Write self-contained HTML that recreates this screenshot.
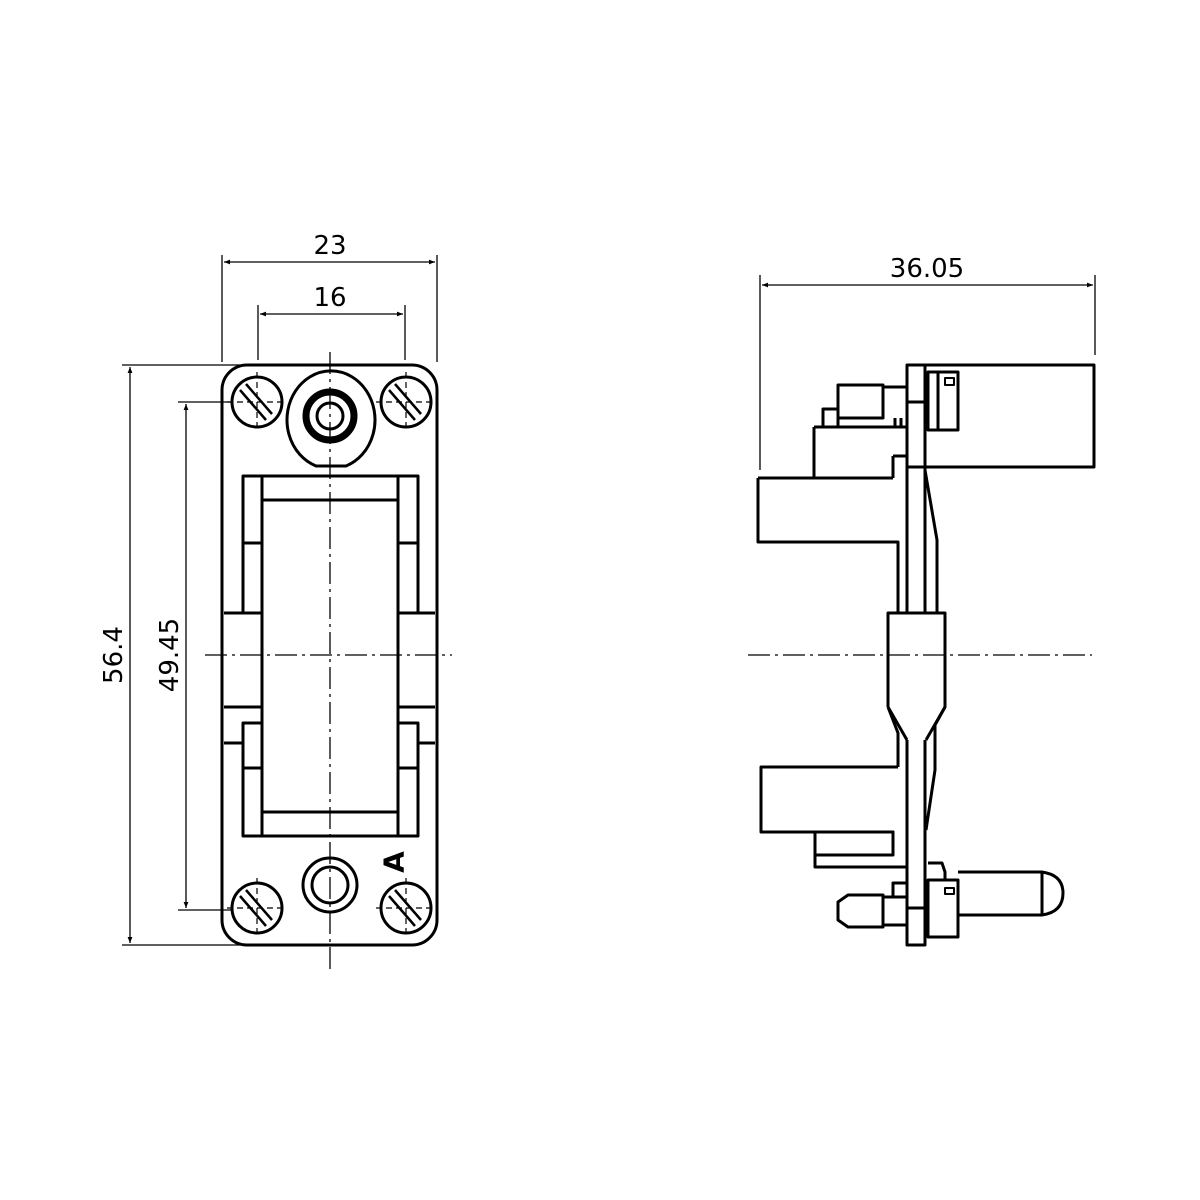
<!DOCTYPE html>
<html><head><meta charset="utf-8"><style>html,body{margin:0;padding:0;background:#fff}svg{display:block}</style></head>
<body>
<svg width="1200" height="1200" viewBox="0 0 1200 1200" xmlns="http://www.w3.org/2000/svg">
<defs>
<marker id="ar" viewBox="0 0 10 10" refX="10" refY="5" markerWidth="10" markerHeight="6" orient="auto-start-reverse" markerUnits="userSpaceOnUse"><path d="M0,1 L10,5 L0,9 z" fill="#000"/></marker>
</defs>
<g font-family="'DejaVu Sans','Liberation Sans',sans-serif" font-size="26" fill="#000">
<text x="330" y="254" text-anchor="middle">23</text>
<text x="330" y="306" text-anchor="middle">16</text>
<text x="927" y="277" text-anchor="middle">36.05</text>
<text transform="translate(122,655) rotate(-90)" text-anchor="middle">56.4</text>
<text transform="translate(178,655) rotate(-90)" text-anchor="middle">49.45</text>
</g>
<g stroke="#000" stroke-width="1.3" fill="none">
<line x1="222" y1="255" x2="222" y2="362"/><line x1="437" y1="255" x2="437" y2="362"/>
<line x1="224" y1="262" x2="435" y2="262" marker-start="url(#ar)" marker-end="url(#ar)"/>
<line x1="258" y1="305" x2="258" y2="360"/><line x1="405" y1="305" x2="405" y2="360"/>
<line x1="260" y1="314" x2="403" y2="314" marker-start="url(#ar)" marker-end="url(#ar)"/>
<line x1="122" y1="365" x2="240" y2="365"/><line x1="122" y1="945" x2="240" y2="945"/>
<line x1="130" y1="367" x2="130" y2="943" marker-start="url(#ar)" marker-end="url(#ar)"/>
<line x1="178" y1="402" x2="232" y2="402"/><line x1="178" y1="910" x2="232" y2="910"/>
<line x1="186" y1="404" x2="186" y2="908" marker-start="url(#ar)" marker-end="url(#ar)"/>
<line x1="760" y1="275" x2="760" y2="470"/><line x1="1095" y1="275" x2="1095" y2="355"/>
<line x1="762" y1="285" x2="1093" y2="285" marker-start="url(#ar)" marker-end="url(#ar)"/>
</g>
<g stroke="#000" stroke-width="1.3" fill="none" stroke-dasharray="22,5,3,5">
<line x1="330" y1="352" x2="330" y2="972"/>
<line x1="205" y1="655" x2="452" y2="655"/>
<line x1="748" y1="655" x2="1092" y2="655"/>
</g>
<g stroke="#000" stroke-width="1.2" fill="none" stroke-dasharray="6,4">
<line x1="257" y1="372" x2="257" y2="432"/><line x1="227" y1="402" x2="287" y2="402"/>
<line x1="406" y1="372" x2="406" y2="432"/><line x1="376" y1="402" x2="436" y2="402"/>
<line x1="257" y1="878" x2="257" y2="938"/><line x1="227" y1="908" x2="287" y2="908"/>
<line x1="406" y1="878" x2="406" y2="938"/><line x1="376" y1="908" x2="436" y2="908"/>
</g>
<g stroke="#000" stroke-width="3" fill="none" stroke-linejoin="round">
<rect x="222" y="365" width="215" height="580" rx="25"/>
<circle cx="257" cy="402" r="25"/><circle cx="406" cy="402" r="25"/>
<circle cx="257" cy="908" r="25"/><circle cx="406" cy="908" r="25"/>
<g stroke-width="2.5">
<line x1="240" y1="390" x2="266" y2="420"/><line x1="246" y1="384" x2="272" y2="414"/>
<line x1="389" y1="390" x2="415" y2="420"/><line x1="395" y1="384" x2="421" y2="414"/>
<line x1="240" y1="896" x2="266" y2="926"/><line x1="246" y1="890" x2="272" y2="920"/>
<line x1="389" y1="896" x2="415" y2="926"/><line x1="395" y1="890" x2="421" y2="920"/>
</g>
<path d="M316,466 A44,49 0 1 1 346,466 Z"/>
<circle cx="330" cy="416" r="24" stroke-width="7"/>
<circle cx="330" cy="416" r="13"/>
<circle cx="330" cy="885" r="27"/><circle cx="330" cy="885" r="18"/>
<path d="M243,613 L243,476 L418,476 L418,613"/>
<line x1="262" y1="476" x2="262" y2="836"/><line x1="398" y1="476" x2="398" y2="836"/>
<line x1="262" y1="500" x2="398" y2="500"/>
<line x1="243" y1="543" x2="262" y2="543"/><line x1="398" y1="543" x2="418" y2="543"/>
<line x1="224" y1="613" x2="262" y2="613"/><line x1="398" y1="613" x2="435" y2="613"/>
<line x1="224" y1="707" x2="262" y2="707"/><line x1="398" y1="707" x2="435" y2="707"/>
<path d="M224,743 L243,743 L243,723 L262,723"/><path d="M435,743 L418,743 L418,723 L398,723"/>
<path d="M243,743 L243,836 L418,836 L418,743"/>
<line x1="243" y1="768" x2="262" y2="768"/><line x1="398" y1="768" x2="418" y2="768"/>
<line x1="262" y1="812" x2="398" y2="812"/>
</g>
<text transform="translate(394,862) rotate(-90)" font-family="'DejaVu Sans','Liberation Sans',sans-serif" font-weight="bold" font-size="28" text-anchor="middle" dominant-baseline="central">A</text>
<g stroke="#000" stroke-width="3" fill="none" stroke-linejoin="round">
<rect x="907" y="365" width="187" height="102"/>
<line x1="925" y1="365" x2="925" y2="613"/>
<line x1="907" y1="365" x2="907" y2="613"/>
<line x1="907" y1="402" x2="925" y2="402"/>
<rect x="928" y="372" width="30" height="58"/>
<line x1="938" y1="372" x2="938" y2="430"/>
<rect x="945" y="378" width="9" height="7" stroke-width="2"/>
<path d="M925,470 L937,540 L937,613"/>
<path d="M814,427 L907,427 M814,427 L814,478 M893,456 L907,456 M893,456 L893,478"/>
<path d="M758,478 L893,478 M758,478 L758,542 L898,542 L898,613"/>
<path d="M838,385 L883,385 L883,418 L838,418 L838,395 Z"/>
<line x1="883" y1="387" x2="907" y2="387"/>
<rect x="823" y="409" width="15" height="18"/>
<line x1="895" y1="418" x2="895" y2="427"/><line x1="901" y1="418" x2="901" y2="427"/>
<path d="M888,707 L888,613 L945,613 L945,707 L926,740 M888,707 L907,740"/>
<path d="M888,707 L898,733 L898,767"/>
<path d="M945,707 L935,725 L935,770 L926,830"/>
<line x1="907" y1="740" x2="907" y2="945"/>
<line x1="925" y1="740" x2="925" y2="945"/>
<path d="M898,767 L761,767 L761,832 L893,832 L893,855"/>
<rect x="815" y="832" width="78" height="23"/>
<path d="M815,855 L815,867 L907,867"/>
<rect x="907" y="908" width="18" height="37"/>
<rect x="928" y="880" width="30" height="57"/>
<path d="M928,863 L942,863 L945,872 L945,880"/>
<rect x="945" y="888" width="9" height="6" stroke-width="2"/>
<path d="M958,872 L1042,872 Q1063,875 1063,893 Q1063,912 1042,915 L958,915"/>
<line x1="1042" y1="872" x2="1042" y2="915"/>
<path d="M883,895 L848,895 L838,902 L838,920 L848,927 L883,927 Z"/>
<line x1="883" y1="897" x2="907" y2="897"/><line x1="883" y1="925" x2="907" y2="925"/>
<path d="M893,897 L893,883 L907,883"/>
</g>
</svg>
</body></html>
